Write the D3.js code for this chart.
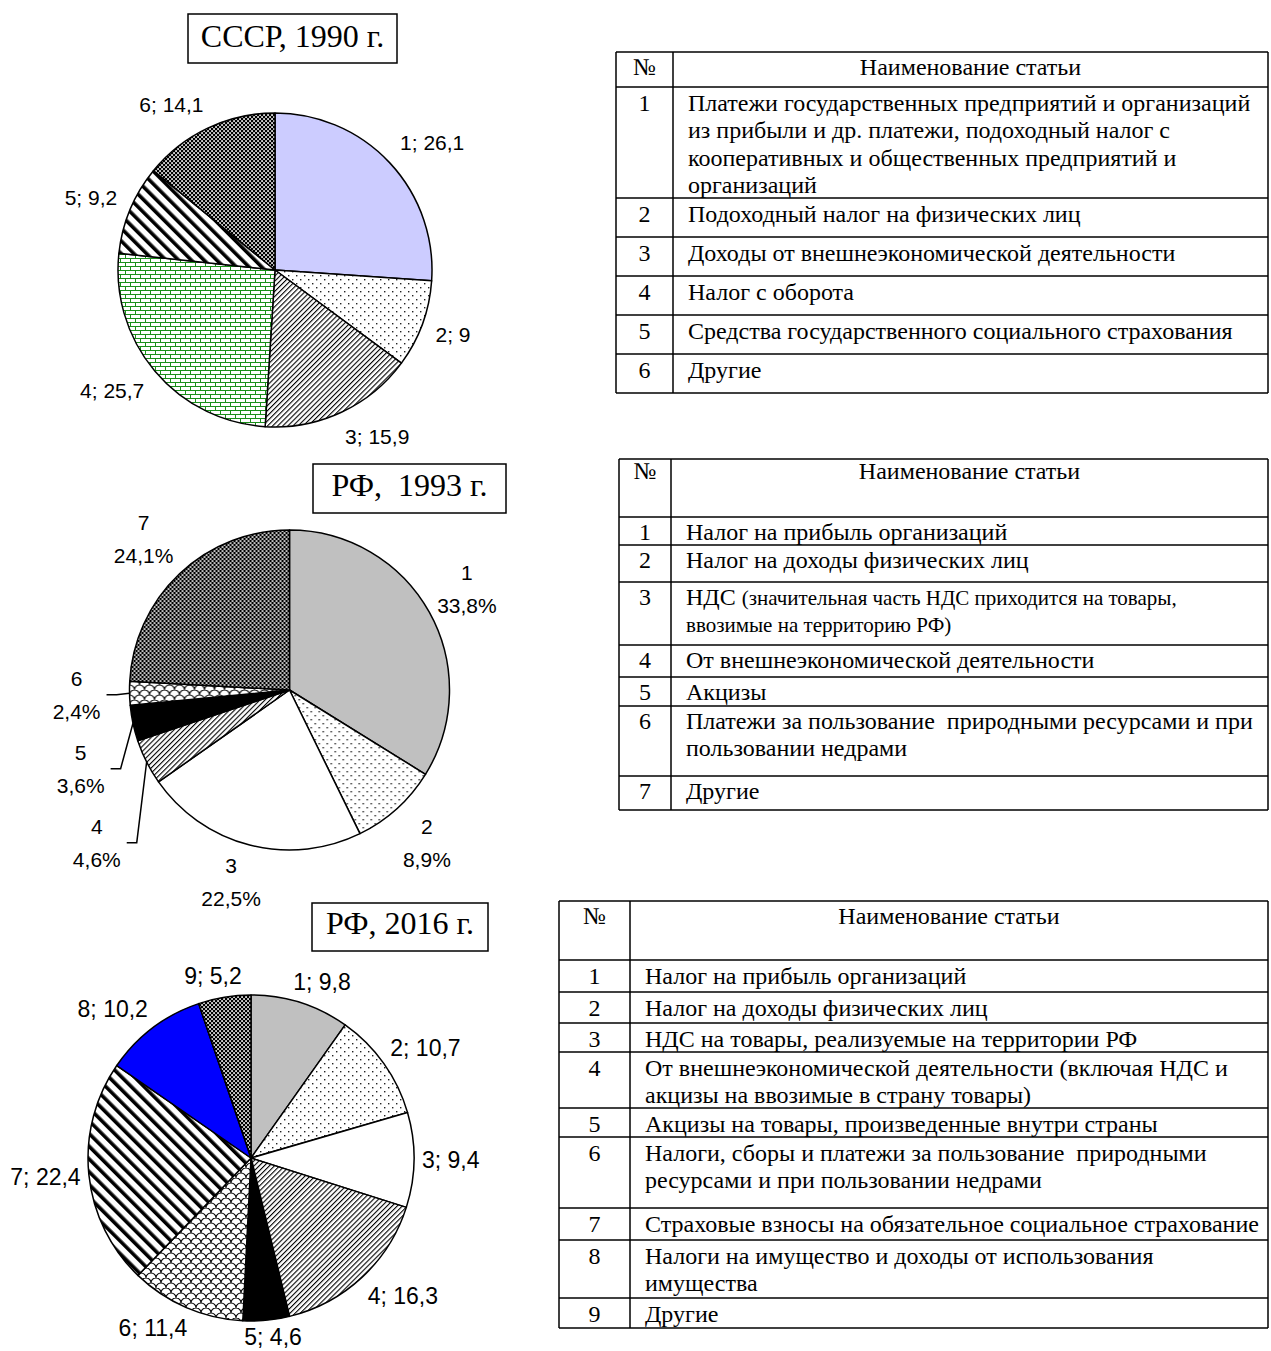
<!DOCTYPE html>
<html><head><meta charset="utf-8">
<script src="https://cdn.jsdelivr.net/npm/d3@7"></script>
<style>
html,body{margin:0;padding:0;background:#fff;}
svg{display:block;}
text{white-space:pre;}
</style></head>
<body>
<svg id="chart" width="1271" height="1351"></svg>
<script>
// ================= DATA =================
const ussrTitle = "СССР, 1990 г.";
const ussrCategories = ["1", "2", "3", "4", "5", "6"];
const ussrValues = [26.1, 9, 15.9, 25.7, 9.2, 14.1];

const rf1993Title = "РФ,  1993 г.";
const rf1993Categories = ["1", "2", "3", "4", "5", "6", "7"];
const rf1993Values = [33.8, 8.9, 22.5, 4.6, 3.6, 2.4, 24.1];

const rf2016Title = "РФ, 2016 г.";
const rf2016Categories = ["1", "2", "3", "4", "5", "6", "7", "8", "9"];
const rf2016Values = [9.8, 10.7, 9.4, 16.3, 4.6, 11.4, 22.4, 10.2, 5.2];

const tableHeader = ["№", "Наименование статьи"];

const ussrItems = [
  ["Платежи государственных предприятий и организаций", "из прибыли и др. платежи, подоходный налог с", "кооперативных и общественных предприятий и", "организаций"],
  ["Подоходный налог на физических лиц"],
  ["Доходы от внешнеэкономической деятельности"],
  ["Налог с оборота"],
  ["Средства государственного социального страхования"],
  ["Другие"]
];
// "|" marks the start of smaller print inside a line
const rf1993Items = [
  ["Налог на прибыль организаций"],
  ["Налог на доходы физических лиц"],
  ["НДС |(значительная часть НДС приходится на товары,", "|ввозимые на территорию РФ)"],
  ["От внешнеэкономической деятельности"],
  ["Акцизы"],
  ["Платежи за пользование  природными ресурсами и при", "пользовании недрами"],
  ["Другие"]
];
const rf2016Items = [
  ["Налог на прибыль организаций"],
  ["Налог на доходы физических лиц"],
  ["НДС на товары, реализуемые на территории РФ"],
  ["От внешнеэкономической деятельности (включая НДС и", "акцизы на ввозимые в страну товары)"],
  ["Акцизы на товары, произведенные внутри страны"],
  ["Налоги, сборы и платежи за пользование  природными", "ресурсами и при пользовании недрами"],
  ["Страховые взносы на обязательное социальное страхование"],
  ["Налоги на имущество и доходы от использования", "имущества"],
  ["Другие"]
];

// ================= STYLE / LAYOUT =================
const W = 1271, H = 1351;
const SERIF = "'Liberation Serif','Times New Roman',serif";
const SANS = "'Liberation Sans',Arial,sans-serif";
const svg = d3.select("#chart");
const defs = svg.append("defs");

function pattern(id, w, h, draw, transform, bg) {
  const p = defs.append("pattern").attr("id", id)
    .attr("patternUnits", "userSpaceOnUse").attr("width", w).attr("height", h);
  if (transform) p.attr("patternTransform", transform);
  p.append("rect").attr("width", w).attr("height", h).attr("fill", bg || "#fff");
  draw(p);
}
pattern("dots", 8, 8, p => {
  p.append("rect").attr("x", 1).attr("y", 1).attr("width", 1.4).attr("height", 1.4).attr("fill", "#222");
  p.append("rect").attr("x", 5).attr("y", 5).attr("width", 1.4).attr("height", 1.4).attr("fill", "#222");
});
pattern("fineDiag", 3.6, 3.6, p => {
  p.append("rect").attr("width", 1.1).attr("height", 3.6).attr("fill", "#000");
}, "rotate(45)");
pattern("wideDiag", 9, 9, p => {
  p.append("rect").attr("width", 3.6).attr("height", 9).attr("fill", "#000");
}, "rotate(-45)");
pattern("checker", 4, 4, p => {
  p.append("rect").attr("x", 0.2).attr("y", 0.2).attr("width", 1.7).attr("height", 1.7).attr("fill", "#fff");
  p.append("rect").attr("x", 2.2).attr("y", 2.2).attr("width", 1.7).attr("height", 1.7).attr("fill", "#fff");
}, null, "#000");
pattern("bricks", 10, 8, p => {
  p.append("path").attr("d", "M0,0.5H10M0,4.5H10M0.5,0.5V4.5M5.5,4.5V8.5")
    .attr("stroke", "#1a8f1a").attr("stroke-width", 1).attr("fill", "none");
});
pattern("scales", 10, 10, p => {
  p.append("path").attr("d", "M0,5 A5,5 0 0 1 10,5 M-5,10 A5,5 0 0 1 5,10 M5,10 A5,5 0 0 1 15,10 M-5,0 A5,5 0 0 1 5,0 M5,0 A5,5 0 0 1 15,0")
    .attr("stroke", "#000").attr("stroke-width", 1.1).attr("fill", "none");
});

const pies = [
  { title: ussrTitle, cats: ussrCategories, values: ussrValues,
    cx: 275, cy: 270, r: 157, fontSize: 21, gap: 14, twoLine: false,
    fills: ["#CCCCFF", "url(#dots)", "url(#fineDiag)", "url(#bricks)", "url(#wideDiag)", "url(#checker)"],
    box: { x: 188, y: 14, w: 209, h: 49, baseline: 47 } },
  { title: rf1993Title, cats: rf1993Categories, values: rf1993Values,
    cx: 289.5, cy: 690, r: 160, fontSize: 21, gap: 9, twoLine: true, lineGap: 33,
    leaderBelow: 5, leaderGap: 20,
    fills: ["#C0C0C0", "url(#dots)", "#fff", "url(#fineDiag)", "#000", "url(#scales)", "url(#checker)"],
    box: { x: 313, y: 464, w: 193, h: 49, baseline: 496 } },
  { title: rf2016Title, cats: rf2016Categories, values: rf2016Values,
    cx: 251, cy: 1158, r: 163, fontSize: 23, gap: 8, twoLine: false,
    fills: ["#C0C0C0", "url(#dots)", "#fff", "url(#fineDiag)", "#000", "url(#scales)", "url(#wideDiag)", "#0000FF", "url(#checker)"],
    box: { x: 312, y: 903, w: 176, h: 48, baseline: 934 } }
];

const tables = [
  { items: ussrItems, x0: 616, x1: 673, x2: 1268,
    tops: [52, 87, 198, 237, 276, 315, 354], bottom: 393, headOff: 22.5, off: 24, lineH: 27.3 },
  { items: rf1993Items, x0: 619, x1: 671, x2: 1268,
    tops: [459, 517, 545, 582, 645, 677, 706, 776], bottom: 810, headOff: 20, off: 23, lineH: 26.5 },
  { items: rf2016Items, x0: 559, x1: 630, x2: 1268,
    tops: [901, 960, 992, 1023, 1052, 1108, 1137, 1208, 1240, 1298], bottom: 1328, headOff: 23, off: 24, lineH: 26.7 }
];

const fmt = v => String(v).replace(".", ",");
const clamp1 = v => Math.max(-1, Math.min(1, v));

// ================= PIES =================
pies.forEach(cfg => {
  const g = svg.append("g").attr("transform", `translate(${cfg.cx},${cfg.cy})`);
  const data = cfg.values.map((v, i) => ({ v, cat: cfg.cats[i] }));
  const arcs = d3.pie().sort(null).value(d => d.v).startAngle(0).endAngle(2 * Math.PI)(data);
  const arc = d3.arc().innerRadius(0).outerRadius(cfg.r);

  g.selectAll("path.slice").data(arcs).join("path")
    .attr("class", "slice")
    .attr("d", arc)
    .attr("fill", (d, i) => cfg.fills[i])
    .attr("stroke", "#000").attr("stroke-width", 1.5).attr("stroke-linejoin", "round");

  // labels
  const labels = g.selectAll("g.lab").data(arcs).join("g").attr("class", "lab");
  const txt = labels.append("text")
    .attr("font-family", SANS).attr("font-size", cfg.fontSize).attr("fill", "#000")
    .attr("text-anchor", "middle");
  if (cfg.twoLine) {
    txt.append("tspan").attr("x", 0).attr("y", 0).text(d => d.data.cat);
    txt.append("tspan").attr("x", 0).attr("y", cfg.lineGap).text(d => fmt(d.data.v) + "%");
  } else {
    txt.append("tspan").attr("x", 0).attr("y", 0).text(d => d.data.cat + "; " + fmt(d.data.v));
  }
  const info = [];
  labels.each(function (d) {
    const bb = this.getBBox();
    const mid = (d.startAngle + d.endAngle) / 2;
    const ux = Math.sin(mid), uy = -Math.cos(mid);
    const leader = cfg.leaderBelow && d.data.v < cfg.leaderBelow;
    const R = cfg.r + cfg.gap + (leader ? cfg.leaderGap : 0);
    info.push({ d, node: this, bb, ux, uy, leader,
      cx: ux * R + clamp1(2.2 * ux) * bb.width / 2,
      cy: uy * R + clamp1(1.4 * uy) * bb.height / 2 });
  });
  // simple collision resolution: push overlapping labels downward
  const sorted = info.slice().sort((a, b) => a.cy - b.cy);
  for (let i = 1; i < sorted.length; i++) {
    for (let j = 0; j < i; j++) {
      const a = sorted[j], b = sorted[i];
      const dx = Math.abs(a.cx - b.cx);
      const minDy = (a.bb.height + b.bb.height) / 2 + 18;
      if (dx < (a.bb.width + b.bb.width) / 2 && b.cy - a.cy < minDy) {
        b.cy = a.cy + minDy;
      }
    }
  }
  info.forEach(o => {
    // keep every label inside the picture
    const maxCy = H - cfg.cy - o.bb.height / 2 - 1;
    if (o.cy > maxCy) o.cy = maxCy;
    const tx = o.cx - (o.bb.x + o.bb.width / 2);
    const ty = o.cy - (o.bb.y + o.bb.height / 2);
    d3.select(o.node).attr("transform", `translate(${tx},${ty})`);
    if (o.leader) {
      const side = o.ux < 0 ? 1 : -1;
      const sx = o.cx + side * (o.bb.width / 2 + 6);
      const kx = sx + side * 10;
      const ex = o.ux * cfg.r, ey = o.uy * cfg.r;
      g.append("path")
        .attr("d", `M${sx},${o.cy}H${kx}L${ex},${ey}`)
        .attr("fill", "none").attr("stroke", "#000").attr("stroke-width", 1.5);
    }
  });

  // title box
  const b = cfg.box;
  svg.append("rect").attr("x", b.x).attr("y", b.y).attr("width", b.w).attr("height", b.h)
    .attr("fill", "#fff").attr("stroke", "#000").attr("stroke-width", 1.5);
  svg.append("text").attr("x", b.x + b.w / 2).attr("y", b.baseline)
    .attr("text-anchor", "middle").attr("font-family", SERIF).attr("font-size", 32)
    .text(cfg.title);
});

// ================= TABLES =================
tables.forEach(t => {
  const g = svg.append("g");
  const line = (x1, y1, x2, y2) => g.append("line")
    .attr("x1", x1).attr("y1", y1).attr("x2", x2).attr("y2", y2)
    .attr("stroke", "#000").attr("stroke-width", 1.5);
  t.tops.forEach(y => line(t.x0, y, t.x2, y));
  line(t.x0, t.bottom, t.x2, t.bottom);
  line(t.x0, t.tops[0], t.x0, t.bottom);
  line(t.x1, t.tops[0], t.x1, t.bottom);
  line(t.x2, t.tops[0], t.x2, t.bottom);

  const c1 = (t.x0 + t.x1) / 2, c2 = (t.x1 + t.x2) / 2;
  const txt = (x, y, s, anchor, size) => g.append("text")
    .attr("x", x).attr("y", y).attr("text-anchor", anchor)
    .attr("font-family", SERIF).attr("font-size", size || 24).text(s);

  txt(c1, t.tops[0] + t.headOff, tableHeader[0], "middle");
  txt(c2, t.tops[0] + t.headOff, tableHeader[1], "middle");

  t.items.forEach((lines, i) => {
    const top = t.tops[i + 1];
    txt(c1, top + t.off, String(i + 1), "middle");
    lines.forEach((ln, k) => {
      const y = top + t.off + k * t.lineH;
      if (ln.includes("|")) {
        const [big, small] = ln.split("|");
        const el = g.append("text").attr("x", t.x1 + 15).attr("y", y)
          .attr("font-family", SERIF).attr("font-size", 24);
        if (big) el.append("tspan").text(big);
        el.append("tspan").attr("font-size", 21).text(small);
      } else {
        txt(t.x1 + 15, y, ln, "start");
      }
    });
  });
});
</script>
</body></html>
